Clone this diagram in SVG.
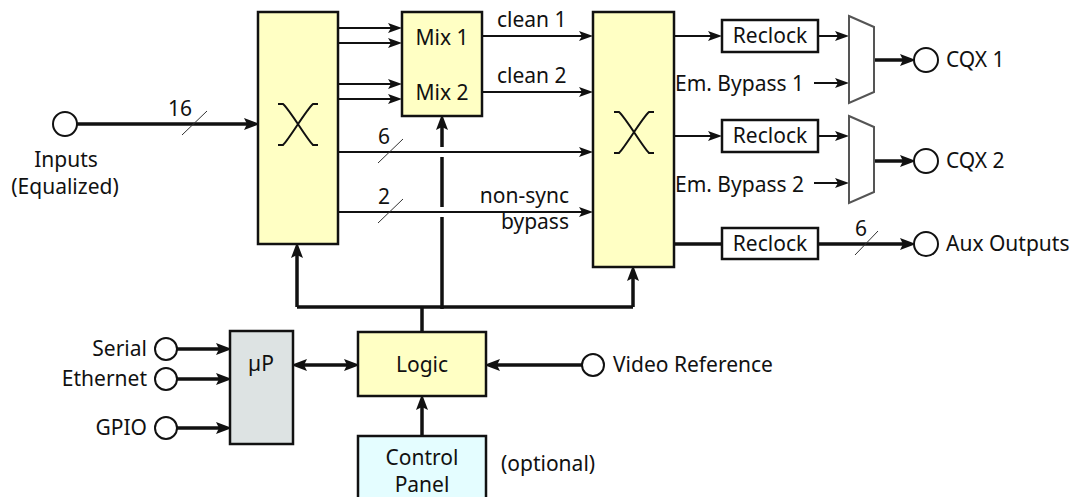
<svg xmlns="http://www.w3.org/2000/svg" width="1080" height="497" viewBox="0 0 1080 497">
<style>
text{font-family:"Noto Sans","Liberation Sans",Arial,sans-serif;font-size:21px;fill:#111}
.box{stroke:#111;stroke-width:2.5}
.y{fill:#FFFFC4}
.g{fill:#DDE3E3}
.c{fill:#E4FDFF}
.w{fill:#fff}
.mux{fill:#fff;stroke:#555;stroke-width:2}
.t{stroke:#111;stroke-width:2;fill:none}
.k{stroke:#111;stroke-width:3.5;fill:none}
.s{stroke:#333;stroke-width:1;fill:none}
.m{text-anchor:middle}
.e{text-anchor:end}
</style>
<defs>
<marker id="a" markerUnits="userSpaceOnUse" markerWidth="16" markerHeight="12" refX="4" refY="5" orient="auto-start-reverse"><path d="M0,0 L14,5 L0,10 L3,5 z" fill="#111"/></marker>
<marker id="b" markerUnits="userSpaceOnUse" markerWidth="18" markerHeight="14" refX="4" refY="6" orient="auto-start-reverse"><path d="M0,0 L16,6 L0,12 L3,6 z" fill="#111"/></marker>
</defs>
<g id="connectors">
<line class="k" x1="77" y1="124" x2="248" y2="124" marker-end="url(#b)"/>
<line class="s" x1="182" y1="135" x2="207" y2="111"/>
<line class="t" x1="338" y1="28" x2="392" y2="28" marker-end="url(#a)"/>
<line class="t" x1="338" y1="43" x2="392" y2="43" marker-end="url(#a)"/>
<line class="t" x1="338" y1="84" x2="392" y2="84" marker-end="url(#a)"/>
<line class="t" x1="338" y1="99" x2="392" y2="99" marker-end="url(#a)"/>
<line class="t" x1="482" y1="36" x2="583" y2="36" marker-end="url(#a)"/>
<line class="t" x1="482" y1="92" x2="583" y2="92" marker-end="url(#a)"/>
<line class="t" x1="338" y1="152" x2="583" y2="152" marker-end="url(#a)"/>
<line class="s" x1="378" y1="163" x2="403" y2="139"/>
<line class="t" x1="338" y1="212" x2="583" y2="212" marker-end="url(#a)"/>
<line class="s" x1="378" y1="223" x2="403" y2="199"/>
<path class="k" d="M297,307 H633"/>
<line class="k" x1="297" y1="307" x2="297" y2="254" marker-end="url(#b)"/>
<line class="k" x1="633" y1="307" x2="633" y2="277" marker-end="url(#b)"/>
<line class="k" x1="422" y1="307" x2="422" y2="332"/>
<line class="k" x1="442" y1="309" x2="442" y2="217"/>
<line class="k" x1="442" y1="207" x2="442" y2="157"/>
<line class="k" x1="442" y1="147" x2="442" y2="126" marker-end="url(#b)"/>
<line class="t" x1="674" y1="36" x2="712" y2="36" marker-end="url(#a)"/>
<line class="t" x1="818" y1="36" x2="839" y2="36" marker-end="url(#a)"/>
<line class="t" x1="814" y1="83" x2="839" y2="83" marker-end="url(#a)"/>
<line class="k" x1="874" y1="60" x2="904" y2="60" marker-end="url(#b)"/>
<line class="t" x1="674" y1="136" x2="712" y2="136" marker-end="url(#a)"/>
<line class="t" x1="818" y1="136" x2="839" y2="136" marker-end="url(#a)"/>
<line class="t" x1="814" y1="183" x2="839" y2="183" marker-end="url(#a)"/>
<line class="k" x1="874" y1="161" x2="904" y2="161" marker-end="url(#b)"/>
<line class="k" x1="674" y1="244" x2="722" y2="244"/>
<line class="k" x1="818" y1="244" x2="904" y2="244" marker-end="url(#b)"/>
<line class="s" x1="855" y1="255" x2="878" y2="231"/>
<line class="k" x1="177" y1="349" x2="220" y2="349" marker-end="url(#b)"/>
<line class="k" x1="177" y1="379" x2="220" y2="379" marker-end="url(#b)"/>
<line class="k" x1="177" y1="428" x2="220" y2="428" marker-end="url(#b)"/>
<line class="k" x1="303" y1="365" x2="348" y2="365" marker-start="url(#b)" marker-end="url(#b)"/>
<line class="k" x1="582" y1="365" x2="496" y2="365" marker-end="url(#b)"/>
<line class="k" x1="422" y1="436" x2="422" y2="406" marker-end="url(#b)"/>
</g>
<g id="inputs">
<circle class="t" cx="65" cy="124" r="12" style="fill:#fff"/>
<text class="m" x="66" y="167">Inputs</text>
<text class="m" x="65" y="194">(Equalized)</text>
<text x="168" y="116">16</text>
</g>
<g id="crosspoint1">
<rect class="box y" x="258" y="12" width="80" height="232"/>
<path class="t" d="M278,104 H283 C290,110 306,138 313,145 H318 M318,104 H313 C306,110 290,138 283,145 H278"/>
</g>
<g id="mix">
<rect class="box y" x="402" y="12" width="80" height="104"/>
<text class="m" x="442" y="45">Mix 1</text>
<text class="m" x="442" y="100">Mix 2</text>
</g>
<g id="labels">
<text x="497" y="27">clean 1</text>
<text x="497" y="83">clean 2</text>
<text x="378" y="144">6</text>
<text x="378" y="204">2</text>
<text class="e" x="569" y="203">non-sync</text>
<text class="e" x="569" y="229">bypass</text>
</g>
<g id="crosspoint2">
<rect class="box y" x="593" y="12" width="81" height="255"/>
<path class="t" d="M614,112 H619 C626,118 642,146 649,153 H654 M654,112 H649 C642,118 626,146 619,153 H614"/>
</g>
<g id="reclock1"><rect class="box w" x="722" y="20" width="96" height="32"/><text class="m" x="770" y="43">Reclock</text></g>
<g id="reclock2"><rect class="box w" x="722" y="120" width="96" height="32"/><text class="m" x="770" y="143">Reclock</text></g>
<g id="reclock3"><rect class="box w" x="722" y="228" width="96" height="31"/><text class="m" x="770" y="251">Reclock</text></g>
<g id="mux1"><path class="mux" d="M849,16 L874,27 L874,92 L849,103 z"/><text class="e" x="804" y="91">Em. Bypass 1</text></g>
<g id="mux2"><path class="mux" d="M849,116 L874,127 L874,192 L849,203 z"/><text class="e" x="804" y="192">Em. Bypass 2</text></g>
<g id="cqx1"><circle class="t" cx="926" cy="60" r="12" style="fill:#fff"/><text x="946" y="67">CQX 1</text></g>
<g id="cqx2"><circle class="t" cx="926" cy="161" r="12" style="fill:#fff"/><text x="946" y="168">CQX 2</text></g>
<g id="aux"><circle class="t" cx="926" cy="244" r="12" style="fill:#fff"/><text x="946" y="251">Aux Outputs</text><text x="855" y="236">6</text></g>
<g id="up">
<rect class="box g" x="230" y="331" width="63" height="113"/>
<text class="m" x="261" y="371">µP</text>
</g>
<g id="serial"><circle class="t" cx="166" cy="349" r="11" style="fill:#fff"/><text class="e" x="147" y="356">Serial</text></g>
<g id="ethernet"><circle class="t" cx="166" cy="379" r="11" style="fill:#fff"/><text class="e" x="147" y="386">Ethernet</text></g>
<g id="gpio"><circle class="t" cx="166" cy="428" r="11" style="fill:#fff"/><text class="e" x="147" y="435">GPIO</text></g>
<g id="logic">
<rect class="box y" x="358" y="332" width="128" height="64"/>
<text class="m" x="422" y="372">Logic</text>
</g>
<g id="videoref"><circle class="t" cx="593" cy="365" r="11" style="fill:#fff"/><text x="613" y="372">Video Reference</text></g>
<g id="control">
<rect class="box c" x="358" y="436" width="128" height="70"/>
<text class="m" x="422" y="465">Control</text>
<text class="m" x="422" y="492">Panel</text>
<text x="501" y="471">(optional)</text>
</g>
</svg>
